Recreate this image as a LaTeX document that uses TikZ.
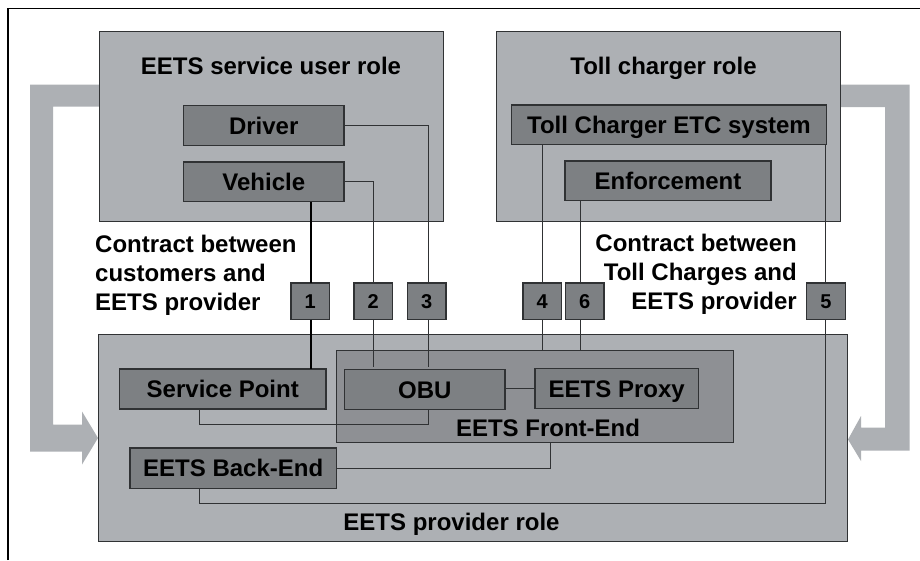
\documentclass[tikz,border=0pt]{standalone}
\usepackage{fontspec}
\setmainfont{Liberation Sans}
\definecolor{rolegray}{HTML}{ADB0B4}
\definecolor{darkgray}{HTML}{7D8083}
\definecolor{midgray}{HTML}{8E9094}
\definecolor{linegray}{HTML}{303234}
\tikzset{
  txt/.style={font=\fontsize{24}{29}\selectfont\bfseries,text=black},
  boxbase/.style={draw=linegray,line width=1pt,rectangle,inner sep=0pt,outer sep=0pt,txt,text height=17pt,text depth=0pt},
  rolebox/.style={boxbase,fill=rolegray},
  frontbox/.style={boxbase,fill=midgray},
  unitbox/.style={boxbase,fill=darkgray,line width=1.2pt},
  numbox/.style={boxbase,fill=darkgray,line width=1.2pt,minimum width=38.5pt,minimum height=36.5pt,font=\fontsize{20}{22}\selectfont\bfseries,text height=14pt},
  plain/.style={txt,inner sep=0pt,outer sep=0pt,anchor=base},
  wire/.style={draw=linegray,line width=1pt},
  heavywire/.style={draw=black,line width=2pt},
  band/.style={fill=rolegray,draw=none},
}
\begin{document}
\begin{tikzpicture}[x=1pt,y=-1pt]
\useasboundingbox (0,0) rectangle (920,560);
\fill[white] (0,0) rectangle (920,560);
\draw[black,line width=1.5pt] (8,560) -- (8,8.5) -- (920,8.5);
% wide arrows
\fill[band] (100,84.5) -- (30,84.5) -- (30,451.5) -- (82,451.5) -- (82,464.5) -- (98,438) -- (82,411.5) -- (82,424.5) -- (53,424.5) -- (53,106.5) -- (100,106.5) -- cycle;
\fill[band] (838,84.5) -- (909.5,84.5) -- (909.5,450.5) -- (861,450.5) -- (861,461) -- (848,439.5) -- (861,416) -- (861,427.5) -- (885,427.5) -- (885,107) -- (838,107) -- cycle;
% role boxes
\node[rolebox,minimum width=343.5pt,minimum height=189.5pt] (user) at (271.25,126.25) {};
\node[rolebox,minimum width=343.5pt,minimum height=189.5pt] (toll) at (668.25,126.25) {};
\node[rolebox,minimum width=749pt,minimum height=207pt] (prov) at (472.5,438) {};
\node[frontbox,minimum width=397.5pt,minimum height=92.5pt] (front) at (534.75,396.25) {};
\node[plain] (userlabel) at (271,74.5) {EETS service user role};
\node[plain] (tolllabel) at (663.5,74.5) {Toll charger role};
\node[plain] (frontlabel) at (548,436.5) {EETS Front-End};
\node[plain] (provlabel) at (451.5,530.5) {EETS provider role};
% unit boxes
\node[unitbox,minimum width=160.5pt,minimum height=40pt] (driver) at (263.75,125.5) {Driver};
\node[unitbox,minimum width=160.5pt,minimum height=39.5pt] (vehicle) at (263.75,181.75) {Vehicle};
\node[unitbox,minimum width=315pt,minimum height=39.5pt] (etc) at (669,124.75) {Toll Charger ETC system};
\node[unitbox,minimum width=206pt,minimum height=39.5pt] (enf) at (668,180.75) {Enforcement};
\node[unitbox,minimum width=206.5pt,minimum height=40pt] (sp) at (222.75,389) {Service Point};
\node[unitbox,minimum width=160.5pt,minimum height=40pt] (obu) at (424.75,389.5) {OBU};
\node[unitbox,minimum width=163.5pt,minimum height=40pt] (proxy) at (616.75,388.5) {EETS Proxy};
\node[unitbox,minimum width=206.5pt,minimum height=40.5pt] (back) at (233.25,468.25) {EETS Back-End};
% number boxes
\node[numbox] (n1) at (310.25,301.25) {1};
\node[numbox] (n2) at (373.25,301.25) {2};
\node[numbox] (n3) at (426.75,301.25) {3};
\node[numbox] (n4) at (542.25,301.25) {4};
\node[numbox] (n6) at (584.75,301.25) {6};
\node[numbox] (n5) at (826,301.25) {5};
% contract labels
\node[txt,inner sep=0pt,align=left,anchor=base west] (cleft) at (95,310.5) {Contract between\\customers and\\EETS provider};
\node[txt,inner sep=0pt,align=right,anchor=base east] (cright) at (797,309) {Contract between\\Toll Charges and\\EETS provider};
% wire positions
\coordinate (x1) at (311,0);
\coordinate (x2) at (373.5,0);
\coordinate (x3) at (428.5,0);
\coordinate (x4) at (542.5,0);
\coordinate (x6) at (580.5,0);
\coordinate (x5) at (825.5,0);
\coordinate (xl) at (199.5,0);
\coordinate (xb) at (550.5,0);
\coordinate (y1) at (0,424);
\coordinate (y2) at (0,503.5);
% connectors
\draw[heavywire] (vehicle.south -| x1) -- (n1.north -| x1);
\draw[heavywire] (n1.south -| x1) -- (sp.north -| x1);
\draw[wire] (vehicle.east) -| (n2.north -| x2);
\draw[wire,shorten >=2.5pt] (n2.south -| x2) -- (obu.north -| x2);
\draw[wire] (driver.east) -| (n3.north -| x3);
\draw[wire,shorten >=2.5pt] (n3.south -| x3) -- (obu.north -| x3);
\draw[wire] (etc.south -| x4) -- (n4.north -| x4);
\draw[wire] (n4.south -| x4) -- (front.north -| x4);
\draw[wire] (enf.south -| x6) -- (n6.north -| x6);
\draw[wire] (n6.south -| x6) -- (front.north -| x6);
\draw[wire] (etc.south -| x5) -- (n5.north -| x5);
\draw[wire] (n5.south -| x5) -- (x5 |- y2) -- (xl |- y2) -- (back.south -| xl);
\draw[wire] (sp.south -| xl) -- (xl |- y1) -- (x3 |- y1) -- (obu.south -| x3);
\draw[wire] (obu.east |- proxy.west) -- (proxy.west);
\draw[wire] (back.east) -| (front.south -| xb);
\end{tikzpicture}
\end{document}
